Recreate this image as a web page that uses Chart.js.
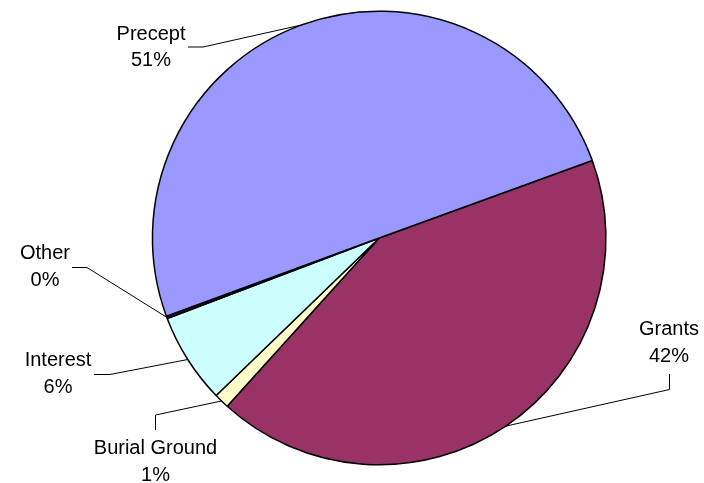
<!DOCTYPE html>
<html>
<head>
<meta charset="utf-8">
<script src="https://cdn.jsdelivr.net/npm/chart.js@4/dist/chart.umd.min.js"></script>
<style>
  html, body { margin: 0; padding: 0; background: #fff; }
  #wrap { width: 704px; height: 483px; position: relative; }
</style>
</head>
<body>
<div id="wrap"><canvas id="c" width="704" height="483"></canvas></div>
<script>
// Data (clockwise order starting from the Precept/Grants boundary)
const categories = ["Grants", "Burial Ground", "Interest", "Other", "Precept"];
const values = [42.25, 1.08, 6.45, 0.17, 50.05];
const percentLabels = ["42%", "1%", "6%", "0%", "51%"];
const colors = ["#993366", "#FFFFCC", "#CCFFFF", "#660066", "#9999FF"];

// Label layout: text centre x, first baseline y, and leader-line elbow points
const labelLayout = [
  { x: 669, y: 335, elbow: [[669.5, 374], [669.5, 389.5]] },      // Grants
  { x: 155.5, y: 454, elbow: [[155.5, 430], [155.5, 415]] },      // Burial Ground
  { x: 58, y: 366, elbow: [[94, 374.5], [110, 374.5]] },          // Interest
  { x: 45, y: 259, elbow: [[72, 267.5], [87, 267.5]] },           // Other
  { x: 151, y: 39.5, elbow: [[188, 47], [203, 47]] }              // Precept
];

const labelPlugin = {
  id: 'pieLabels',
  afterDatasetsDraw(chart) {
    const ctx = chart.ctx;
    const arcs = chart.getDatasetMeta(0).data;
    ctx.save();
    ctx.font = '20px "Liberation Sans", Arial, sans-serif';
    ctx.fillStyle = '#000';
    ctx.textAlign = 'center';
    ctx.textBaseline = 'alphabetic';
    ctx.strokeStyle = '#000';
    ctx.lineWidth = 1;
    arcs.forEach((arc, i) => {
      const p = arc.getProps(['x', 'y', 'startAngle', 'endAngle', 'outerRadius'], true);
      const mid = (p.startAngle + p.endAngle) / 2;
      const ex = p.x + Math.cos(mid) * p.outerRadius;
      const ey = p.y + Math.sin(mid) * p.outerRadius;
      const L = labelLayout[i];
      ctx.beginPath();
      ctx.moveTo(L.elbow[0][0], L.elbow[0][1]);
      ctx.lineTo(L.elbow[1][0], L.elbow[1][1]);
      ctx.lineTo(ex, ey);
      ctx.stroke();
      ctx.fillText(categories[i], L.x, L.y);
      ctx.fillText(percentLabels[i], L.x, L.y + 26.7);
    });
    ctx.restore();
  }
};

new Chart(document.getElementById('c'), {
  type: 'pie',
  data: {
    labels: categories,
    datasets: [{
      data: values,
      backgroundColor: colors,
      borderColor: '#000',
      borderWidth: 1.5
    }]
  },
  options: {
    responsive: false,
    animation: false,
    rotation: 70,
    layout: { padding: { left: 151.7, right: 97.3, top: 10.5, bottom: 17.5 } },
    plugins: {
      legend: { display: false },
      tooltip: { enabled: false }
    }
  },
  plugins: [labelPlugin]
});
</script>
</body>
</html>
